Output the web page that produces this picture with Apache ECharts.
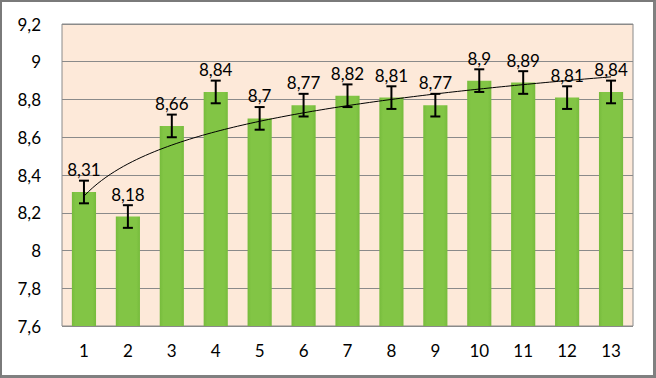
<!DOCTYPE html>
<html>
<head>
<meta charset="utf-8">
<script src="https://cdn.jsdelivr.net/npm/echarts@6/dist/echarts.min.js"></script>
<style>
  html, body { margin: 0; padding: 0; background: #fff; }
  #frame {
    border-left: 2px solid #7a7a7a; border-top: 2px solid #7a7a7a;
    border-right: 3px solid #808080; border-bottom: 3px solid #808080;
    box-sizing: border-box; width: 656px; height: 378px;
  }
  #chart { width: 651px; height: 373px; }
</style>
</head>
<body>
<div id="frame"><div id="chart"></div></div>
<script>
const categories = ['1', '2', '3', '4', '5', '6', '7', '8', '9', '10', '11', '12', '13'];
const values = [8.31, 8.18, 8.66, 8.84, 8.7, 8.77, 8.82, 8.81, 8.77, 8.9, 8.89, 8.81, 8.84];
const errors = [0.06, 0.06, 0.06, 0.06, 0.06, 0.06, 0.06, 0.06, 0.06, 0.06, 0.06, 0.06, 0.06];

const fmt = v => String(+v.toFixed(2)).replace('.', ',');

// logarithmic trend line (least squares on ln x), like the spreadsheet one
const lnx = values.map((_, i) => Math.log(i + 1));
const mx = lnx.reduce((a, b) => a + b, 0) / lnx.length;
const my = values.reduce((a, b) => a + b, 0) / values.length;
let sxy = 0, sxx = 0;
lnx.forEach((l, i) => { sxy += (l - mx) * (values[i] - my); sxx += (l - mx) * (l - mx); });
const slope = sxy / sxx;
const icpt = my - slope * mx;
const trend = [];
for (let x = 1; x <= 13.0001; x += 0.1) trend.push([x, icpt + slope * Math.log(x)]);

const chart = echarts.init(document.getElementById('chart'), null, { renderer: 'svg' });

chart.setOption({
  animation: false,
  textStyle: { fontFamily: 'Lato, "Open Sans", sans-serif' },
  grid: {
    left: 60, right: 20, top: 22, bottom: 49,
    show: true, backgroundColor: '#fde9d9', borderColor: '#8a8a8a', borderWidth: 1
  },
  xAxis: [{
    type: 'category',
    data: categories,
    axisLine: { show: false },
    axisTick: { show: false },
    axisLabel: { color: '#000', fontSize: 17, margin: 16 }
  }, {
    type: 'value', min: 0.5, max: 13.5, show: false
  }],
  yAxis: {
    type: 'value',
    min: 7.6, max: 9.2, interval: 0.2,
    axisLine: { show: false },
    axisTick: { show: false },
    splitLine: { lineStyle: { color: '#8a8a8a', width: 1 } },
    axisLabel: { color: '#000', fontSize: 17, margin: 21, formatter: fmt }
  },
  series: [{
    type: 'bar',
    data: values,
    barWidth: '55%',
    itemStyle: {
      color: new echarts.graphic.LinearGradient(0, 0, 1, 0, [
        { offset: 0, color: '#76bb3c' },
        { offset: 0.15, color: '#82c545' },
        { offset: 0.85, color: '#82c545' },
        { offset: 1, color: '#76bb3c' }
      ])
    },
    label: {
      show: true, position: 'top', distance: 14,
      color: '#000', fontSize: 17, formatter: p => fmt(p.value)
    }
  }, {
    type: 'custom',
    data: values.map((v, i) => [i, v - errors[i], v + errors[i]]),
    renderItem: (params, api) => {
      const lo = api.coord([api.value(0), api.value(1)]);
      const hi = api.coord([api.value(0), api.value(2)]);
      const half = 5;
      const st = { stroke: '#000', lineWidth: 2 };
      return {
        type: 'group',
        children: [
          { type: 'line', shape: { x1: lo[0], y1: lo[1], x2: hi[0], y2: hi[1] }, style: st },
          { type: 'line', shape: { x1: lo[0] - half, y1: lo[1], x2: lo[0] + half, y2: lo[1] }, style: st },
          { type: 'line', shape: { x1: hi[0] - half, y1: hi[1], x2: hi[0] + half, y2: hi[1] }, style: st }
        ]
      };
    },
    z: 5
  }, {
    type: 'line',
    xAxisIndex: 1,
    data: trend,
    showSymbol: false,
    lineStyle: { color: '#000', width: 1 },
    z: 4
  }]
});
</script>
</body>
</html>
